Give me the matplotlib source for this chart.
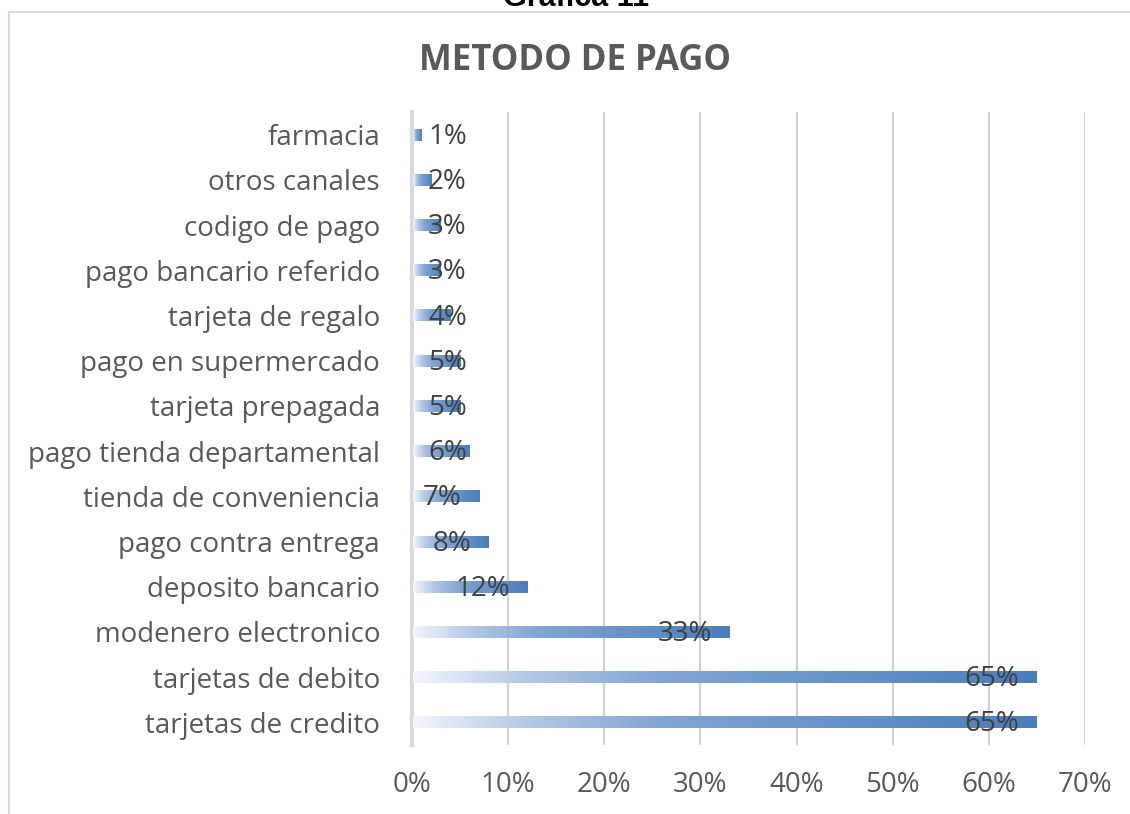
import matplotlib.pyplot as plt
import numpy as np
from matplotlib.colors import LinearSegmentedColormap
from matplotlib.patches import Rectangle
from matplotlib.ticker import FuncFormatter

categorias = ['farmacia', 'otros canales', 'codigo de pago', 'pago bancario referido',
              'tarjeta de regalo', 'pago en supermercado', 'tarjeta prepagada',
              'pago tienda departamental', 'tienda de conveniencia', 'pago contra entrega',
              'deposito bancario', 'modenero electronico', 'tarjetas de debito',
              'tarjetas de credito']
valores = [1, 2, 3, 3, 4, 5, 5, 6, 7, 8, 12, 33, 65, 65]

plt.rcParams['font.family'] = ['Open Sans', 'DejaVu Sans']

fig = plt.figure(figsize=(11.3, 8.14), dpi=100)
W, H = 1130, 814
# axes: 0% at x=412, 70% at x=1085; y from 112 to 745
ax = fig.add_axes([412 / W, 1 - 745 / H, (1085 - 412) / W, (745 - 112) / H])

# chart area border
fig.patches.append(Rectangle((9 / W, -0.1), 1.2, 1 - 12 / H + 0.1, transform=fig.transFigure,
                             fill=False, edgecolor='#d9d9d9', lw=1.5))

grad = LinearSegmentedColormap.from_list('g', [(0, '#f3f6fb'), (0.18, '#b4c8e6'),
                                               (0.4, '#82a5d3'), (1, '#4a7ebb')])
ypos = np.arange(len(categorias))
bars = ax.barh(ypos, valores, height=0.265, color='none', zorder=3)
g = np.linspace(0, 1, 256).reshape(1, -1)
for b in bars:
    x0, y0 = b.get_x(), b.get_y()
    im = ax.imshow(g, extent=[x0 + 0.1, x0 + b.get_width(), y0, y0 + b.get_height()],
                   aspect='auto', cmap=grad, zorder=3)
    im.set_clip_path(b)

for i, v in enumerate(valores):
    txt = '%d%%' % v
    if v >= 7:
        ax.annotate(txt, (v, i), xytext=(-12.5, -1.5), textcoords='offset points',
                    ha='right', va='center', fontsize=20, color='#404040', zorder=4)
    else:
        ax.annotate(txt, (0, i), xytext=(11.5, -1.5), textcoords='offset points',
                    ha='left', va='center', fontsize=20, color='#404040', zorder=4)

ax.set_xlim(0, 70)
ax.set_ylim(13.5, -0.5)
ax.set_xticks(range(0, 71, 10))
ax.xaxis.set_major_formatter(FuncFormatter(lambda x, p: '%d%%' % x))
ax.set_yticks(ypos)
ax.set_yticklabels(categorias)
ax.tick_params(axis='both', length=0, labelsize=20, colors='#595959')
ax.tick_params(axis='y', pad=23)
ax.tick_params(axis='x', pad=19)
ax.grid(axis='x', color='#d0d0d0', lw=1.5, zorder=0)
for s in ['top', 'right', 'bottom']:
    ax.spines[s].set_visible(False)
ax.spines['left'].set_color('#d9d9d9')
ax.spines['left'].set_linewidth(3)

fig.text(575 / W, 1 - 70 / H, 'METODO DE PAGO', ha='center', va='baseline',
         fontsize=25, fontweight='bold', color='#595959')
fig.text(576 / W, 1 - 6 / H, 'Grafica 11', ha='center', va='baseline',
         fontsize=22, fontweight='bold', color='black', family='Liberation Sans')

fig.savefig('out.png', dpi=100)
